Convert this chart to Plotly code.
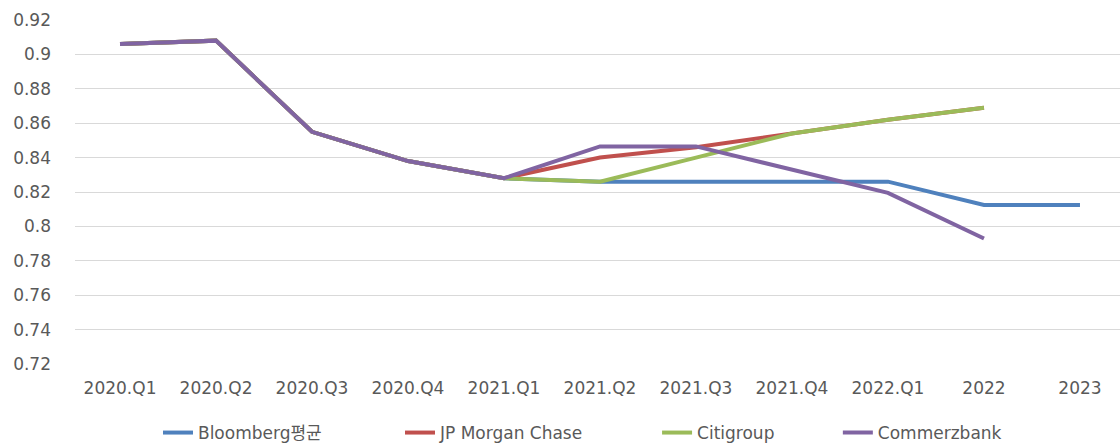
import plotly.graph_objects as go

categories = ["2020.Q1", "2020.Q2", "2020.Q3", "2020.Q4", "2021.Q1", "2021.Q2",
              "2021.Q3", "2021.Q4", "2022.Q1", "2022", "2023"]

bloomberg = [0.906, 0.908, 0.855, 0.838, 0.828, 0.826, 0.826, 0.826, 0.826, 0.8125, 0.8125]
jpmorgan = [0.906, 0.908, 0.855, 0.838, 0.828, 0.840, 0.846, 0.854, 0.862, 0.869, None]
citigroup = [0.906, 0.908, 0.855, 0.838, 0.828, 0.826, 0.840, 0.854, 0.862, 0.869, None]
commerzbank = [0.906, 0.908, 0.855, 0.838, 0.828, 0.8465, 0.8465, 0.833, 0.8195, 0.793, None]

series = [
    ("Bloomberg평균", bloomberg, "#4F81BD", "legend", 0.0794),
    ("JP Morgan Chase", jpmorgan, "#C0504D", "legend2", 0.311),
    ("Citigroup", citigroup, "#9BBB59", "legend3", 0.557),
    ("Commerzbank", commerzbank, "#8064A2", "legend4", 0.730),
]

font_family = "DejaVu Sans, Noto Sans CJK KR, sans-serif"

fig = go.Figure()
legend_layouts = {}
for name, vals, color, leg, lx in series:
    fig.add_trace(go.Scatter(
        x=categories, y=vals, name=name, mode="lines",
        line=dict(color=color, width=4), legend=leg,
    ))
    legend_layouts[leg] = dict(
        orientation="h", x=lx, xanchor="left", y=-0.2006, yanchor="middle",
        bgcolor="rgba(0,0,0,0)",
        font=dict(family=font_family, size=17, color="#595959"),
    )

fig.update_layout(
    width=1120, height=443,
    margin=dict(l=75, r=0, t=20, b=79, autoexpand=False),
    paper_bgcolor="white", plot_bgcolor="white",
    font=dict(family=font_family, size=17, color="#595959"),
    showlegend=True,
    xaxis=dict(type="category", range=[-0.469, 10.417], showgrid=False,
               showline=False, zeroline=False, ticks="",
               tickfont=dict(size=17, color="#595959"), ticklabelstandoff=12),
    yaxis=dict(range=[0.72, 0.92], showgrid=True,
               gridcolor="#D9D9D9", gridwidth=1, zeroline=False, showline=False,
               ticks="", tickvals=[0.72, 0.74, 0.76, 0.78, 0.8, 0.82, 0.84, 0.86, 0.88, 0.9, 0.92],
               ticktext=["0.72", "0.74", "0.76", "0.78", "0.8", "0.82", "0.84", "0.86", "0.88", "0.9", "0.92"],
               tickfont=dict(size=17, color="#595959"), ticklabelstandoff=23),
    **legend_layouts,
)

fig.write_html("out.html")
